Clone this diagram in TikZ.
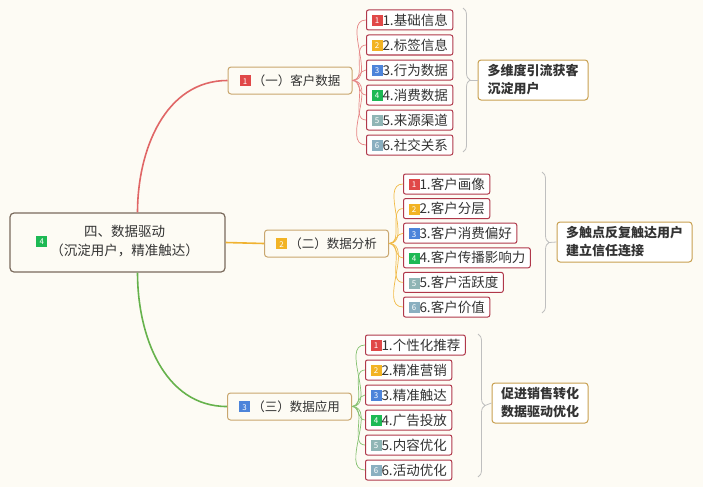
\documentclass[tikz,border=0pt]{standalone}
\usepackage{fontspec}
\setmainfont{Noto Sans CJK SC}
\usepackage{xcolor}
\usetikzlibrary{positioning,decorations.pathreplacing}

\definecolor{paper}{HTML}{FDFBF4}
\definecolor{inkc}{HTML}{333333}
\definecolor{rootline}{HTML}{7A6A5C}
\definecolor{tan}{HTML}{C9A66E}
\definecolor{gold}{HTML}{C8A050}
\definecolor{crimson}{HTML}{B0384A}
\definecolor{lnR}{HTML}{E06666}
\definecolor{lnO}{HTML}{F0B230}
\definecolor{lnG}{HTML}{66B24C}
\definecolor{tagR}{HTML}{E04848}
\definecolor{tagO}{HTML}{F2B324}
\definecolor{tagB}{HTML}{4D84DA}
\definecolor{tagG}{HTML}{1DB954}
\definecolor{tagT}{HTML}{8FB5B5}
\definecolor{tagS}{HTML}{8AAFC0}

\newcommand{\numtag}[2]{{\fboxsep=0pt\colorbox{#1}{\makebox[11pt]{\rule[-1pt]{0pt}{11pt}\raisebox{1.2pt}{\color{white}\fontsize{8}{8}\selectfont #2}}}}}

\begin{document}
\begin{tikzpicture}[
    x=1pt, y=-1pt,
    rootbox/.style={rectangle, draw=rootline, line width=1.2pt, fill=paper, rounded corners=4pt, minimum width=215pt, minimum height=59pt, text=inkc, font=\fontsize{13.5}{19}\selectfont},
    branch/.style={rectangle, draw=tan, line width=1pt, fill=paper, rounded corners=3pt, minimum width=124pt, minimum height=27pt, text=inkc, font=\fontsize{12.5}{15}\selectfont},
    leaf/.style={rectangle, draw=crimson, line width=1pt, fill=white, rounded corners=2pt, minimum height=20pt, inner xsep=5pt, inner ysep=0pt, text=inkc, font=\fontsize{13.5}{15}\selectfont},
    sumbox/.style={rectangle, draw=gold, line width=1pt, fill=white, rounded corners=3pt, minimum height=40pt, align=left, text=inkc, font=\fontsize{13}{18}\selectfont\bfseries},
    bracket/.style={draw=black!25, line width=0.8pt, decorate, decoration={brace, amplitude=7pt}},
    tick/.style={draw=black!25, line width=0.8pt},
    trunk/.style={draw, line width=1.6pt},
    twig/.style={draw, line width=0.7pt}
]
    \useasboundingbox[fill=paper] (0,0) rectangle (703,487);

    % root and main branches
    \node [rootbox] (root) at (117.5,242.5) {\numtag{tagG}{4}\hspace{3pt}\begin{tabular}{@{}c@{}}四、数据驱动\\（沉淀用户，精准触达）\end{tabular}};
    \node [branch] (b1) at (290,80.5) {\numtag{tagR}{1}\,（一）客户数据};
    \node [branch] (b2) at (326.5,243.5) {\numtag{tagO}{2}\,（二）数据分析};
    \node [branch] (b3) at (289.5,406.5) {\numtag{tagB}{3}\,（三）数据应用};

    \path [trunk, lnR] ([xshift=20pt]root.north) to[out=90, in=180] (b1.west);
    \path [trunk, lnO] (root.east) -- (b2.west);
    \path [trunk, lnG] ([xshift=20pt]root.south) to[out=-90, in=180] (b3.west);

    % group 1
    \node [leaf, anchor=west] (l11) at (366,20) {\numtag{tagR}{1}1.基础信息};
    \node [leaf, below=4pt of l11.south west, anchor=north west] (l12) {\numtag{tagO}{2}2.标签信息};
    \node [leaf, below=4pt of l12.south west, anchor=north west] (l13) {\numtag{tagB}{3}3.行为数据};
    \node [leaf, below=4pt of l13.south west, anchor=north west] (l14) {\numtag{tagG}{4}4.消费数据};
    \node [leaf, below=4pt of l14.south west, anchor=north west] (l15) {\numtag{tagT}{5}5.来源渠道};
    \node [leaf, below=4pt of l15.south west, anchor=north west] (l16) {\numtag{tagS}{6}6.社交关系};

    % group 2
    \node [leaf, anchor=west] (l21) at (403,184) {\numtag{tagR}{1}1.客户画像};
    \node [leaf, below=3.6pt of l21.south west, anchor=north west] (l22) {\numtag{tagO}{2}2.客户分层};
    \node [leaf, below=3.6pt of l22.south west, anchor=north west] (l23) {\numtag{tagB}{3}3.客户消费偏好};
    \node [leaf, below=3.6pt of l23.south west, anchor=north west] (l24) {\numtag{tagG}{4}4.客户传播影响力};
    \node [leaf, below=3.6pt of l24.south west, anchor=north west] (l25) {\numtag{tagT}{5}5.客户活跃度};
    \node [leaf, below=3.6pt of l25.south west, anchor=north west] (l26) {\numtag{tagS}{6}6.客户价值};

    % group 3
    \node [leaf, anchor=west] (l31) at (365,345) {\numtag{tagR}{1}1.个性化推荐};
    \node [leaf, below=4pt of l31.south west, anchor=north west] (l32) {\numtag{tagO}{2}2.精准营销};
    \node [leaf, below=4pt of l32.south west, anchor=north west] (l33) {\numtag{tagB}{3}3.精准触达};
    \node [leaf, below=4pt of l33.south west, anchor=north west] (l34) {\numtag{tagG}{4}4.广告投放};
    \node [leaf, below=4pt of l34.south west, anchor=north west] (l35) {\numtag{tagT}{5}5.内容优化};
    \node [leaf, below=4pt of l35.south west, anchor=north west] (l36) {\numtag{tagS}{6}6.活动优化};

    \foreach \i in {1,...,6} {
        \path [twig, lnR!80] (b1.east) to[out=0, in=180] (l1\i.west);
        \path [twig, lnO!90] (b2.east) to[out=0, in=180] (l2\i.west);
        \path [twig, lnG!80] (b3.east) to[out=0, in=180] (l3\i.west);
    }

    % summaries
    \node [sumbox, minimum width=110pt] (s1) at (533,80) {多维度引流获客\\沉淀用户};
    \node [sumbox, minimum width=135pt] (s2) at (624.5,242) {多触点反复触达用户\\建立信任连接};
    \node [sumbox, minimum width=96pt] (s3) at (540,403) {促进销售转化\\数据驱动优化};

    \coordinate (k1) at (470,80);
    \coordinate (k2) at (549,242.5);
    \coordinate (k3) at (485,405.5);
    \path [bracket] (463,8) -- (463,152);
    \path [bracket] (542,172) -- (542,313);
    \path [bracket] (478,334) -- (478,477);
    \path [tick] (k1) -- (s1.west);
    \path [tick] (k2) -- (s2.west);
    \path [tick] (k3) -- (s3.west);
\end{tikzpicture}
\end{document}
